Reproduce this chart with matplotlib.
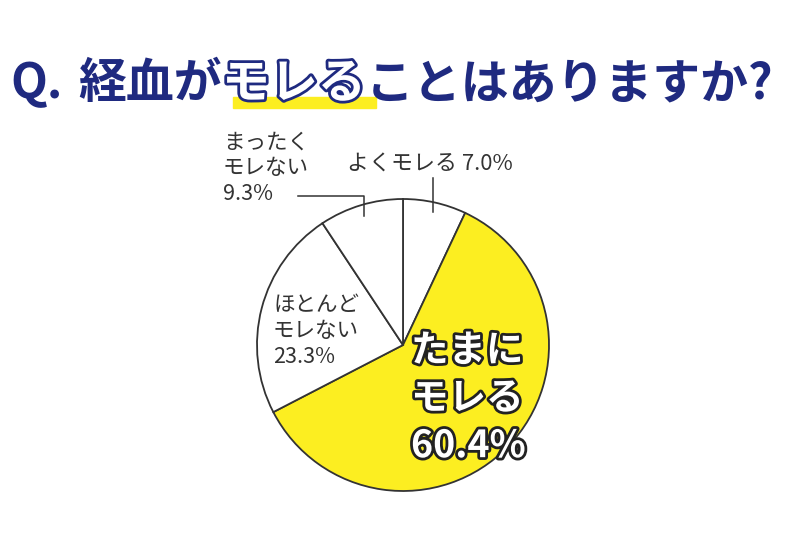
#!/usr/bin/env python3
"""Pie chart: 経血がモレることはありますか?"""

import matplotlib
matplotlib.use("Agg")
import matplotlib.pyplot as plt
import matplotlib.patheffects as pe
import numpy as np
from matplotlib.patches import Rectangle

plt.rcParams["font.family"] = ["Noto Sans CJK JP", "DejaVu Sans"]

# data (clockwise from 12 o'clock)
categories = ["よくモレる", "たまに\nモレる", "ほとんど\nモレない", "まったく\nモレない"]
shares = [7.0, 60.4, 23.3, 9.3]
slice_colors = ["white", "#fcee21", "white", "white"]

title_parts = ["Q.", "経血が", "モレる", "ことはありますか?"]

NAVY = "#1f2a80"
INK = "#333333"
W, H = 800, 534
CX, CY, R = 403, 345, 146

fig = plt.figure(figsize=(8, 5.34), dpi=100)
fig.patch.set_facecolor("white")

# pie axes laid over the chart area
pie_ax = fig.add_axes([(CX - R) / W, (H - CY - R) / H, 2 * R / W, 2 * R / H])
pie_ax.pie(
    shares,
    colors=slice_colors,
    startangle=90,
    counterclock=False,
    wedgeprops=dict(edgecolor=INK, linewidth=1.3),
)
pie_ax.set_xlim(-1, 1)
pie_ax.set_ylim(-1, 1)
pie_ax.set_aspect("auto")
pie_ax.axis("off")

# overlay in pixel coordinates for texts and leaders
bg = fig.add_axes([0, 0, 1, 1])
bg.set_xlim(0, W)
bg.set_ylim(H, 0)
bg.axis("off")
bg.set_zorder(5)

# title
bg.add_patch(Rectangle((233, 97), 143, 11, color="#fcee21", zorder=1))
title_x = [10, 78, 222, 366]
for i, (part, x) in enumerate(zip(title_parts, title_x)):
    kw = dict(fontsize=34.5, fontweight="bold", va="baseline", ha="left", zorder=3)
    if i == 2:
        bg.text(x, 98, part, color="white",
                path_effects=[pe.Stroke(linewidth=4, foreground=NAVY), pe.Normal()], **kw)
    else:
        bg.text(x, 98, part, color=NAVY, **kw)

# slice mid angles (degrees, math convention)
bounds = np.cumsum([0] + shares) / 100.0 * 360.0
mids = 90 - (bounds[:-1] + bounds[1:]) / 2


def rim_point(idx, frac):
    a = np.deg2rad(mids[idx])
    return CX + frac * R * np.cos(a), CY - frac * R * np.sin(a)


# よくモレる: vertical leader up to label
x0, y0 = rim_point(0, 0.93)
bg.plot([x0, x0], [y0, 178], color=INK, lw=1.1)
bg.text(347, 165, f"{categories[0]} {shares[0]:.1f}%", fontsize=15.8, color=INK,
        ha="left", va="center")

# まったくモレない: elbow leader
x3, y3 = rim_point(3, 0.92)
bg.plot([298, x3, x3], [196, 196, y3], color=INK, lw=1.1)
bg.text(223, 168, f"{categories[3]}\n{shares[3]:.1f}%", fontsize=15.5, color=INK,
        ha="left", va="center", linespacing=1.22)

# ほとんどモレない: inside slice
bg.text(273, 331, f"{categories[2]}\n{shares[2]:.1f}%", fontsize=15.5, color=INK,
        ha="left", va="center", linespacing=1.25)

# たまにモレる: big outlined label
bg.text(411, 398, f"{categories[1]}\n{shares[1]:.1f}%", fontsize=27,
        fontweight="bold", color="white", ha="left", va="center", linespacing=1.28,
        path_effects=[pe.Stroke(linewidth=4, foreground="#222222"), pe.Normal()])

fig.savefig("out.png", dpi=100)
